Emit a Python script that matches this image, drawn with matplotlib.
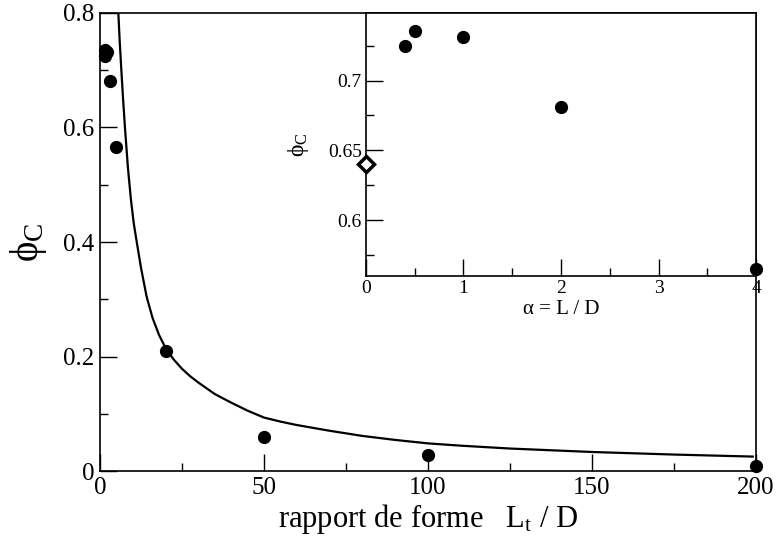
import matplotlib
matplotlib.use('Agg')
import matplotlib.pyplot as plt
from matplotlib.ticker import MultipleLocator, FuncFormatter

plt.rcParams['font.family'] = ['Liberation Serif', 'DejaVu Serif']
plt.rcParams['mathtext.fontset'] = 'custom'
plt.rcParams['mathtext.rm'] = 'Liberation Serif'
plt.rcParams['mathtext.it'] = 'Liberation Serif:italic'

# --- données ---
# rapport de forme Lt/D et fraction critique (points mesurés)
lt_over_d = [1.4, 1.5, 2.0, 3.0, 5.0, 20, 50, 100, 200]
phi_c_main = [0.725, 0.735, 0.731, 0.681, 0.565, 0.210, 0.060, 0.028, 0.010]

# courbe théorique (relevée point par point)
curve_x = [5.58, 6.0, 6.5, 7.0, 7.6, 8.5, 9.45, 10.3, 11.2, 12.5, 14.2, 16.0, 18.0,
           20.0, 22.5, 25.0, 27.5, 30.0, 35.0, 40.0, 45.0, 50.0, 55.0, 60.0, 70.0,
           80.0, 90.0, 100.0, 110.0, 125.0, 150.0, 175.0, 199.0]
curve_y = [0.800, 0.750, 0.700, 0.652, 0.600, 0.530, 0.4725, 0.432, 0.400, 0.355,
           0.305, 0.268, 0.238, 0.215, 0.195, 0.179, 0.166, 0.155, 0.135, 0.120,
           0.106, 0.094, 0.087, 0.081, 0.071, 0.062, 0.055, 0.049, 0.045, 0.040,
           0.034, 0.0295, 0.026]

# encart : alpha = L/D
alpha = [0.4, 0.5, 1.0, 2.0, 4.0]
phi_c_inset = [0.7248, 0.7355, 0.731, 0.6807, 0.565]
alpha_sphere = [0.0]
phi_c_sphere = [0.6405]

fig = plt.figure(figsize=(7.79, 5.49), dpi=100)
ax = fig.add_axes([0.1284, 0.1412, 0.9705 - 0.1284, 0.9769 - 0.1412])

ax.plot(curve_x, curve_y, color='black', lw=1.6, zorder=2)
ax.plot(lt_over_d, phi_c_main, 'o', color='black', ms=8.5, clip_on=False, zorder=3)

ax.set_xlim(0, 200)
ax.set_ylim(0, 0.8)
ax.xaxis.set_major_locator(MultipleLocator(50))
ax.xaxis.set_minor_locator(MultipleLocator(25))
ax.yaxis.set_major_locator(MultipleLocator(0.2))
ax.yaxis.set_minor_locator(MultipleLocator(0.1))
ax.yaxis.set_major_formatter(FuncFormatter(lambda v, p: '0' if abs(v) < 1e-9 else f'{v:.1f}'))
ax.tick_params(which='both', direction='in', top=False, right=False, labelsize=18, pad=4)
ax.tick_params(which='major', length=12, width=1)
ax.tick_params(which='minor', length=6, width=1)
for s in ax.spines.values():
    s.set_linewidth(1.2)
ax.set_xlabel('rapport de forme   L$_\\mathrm{t}$ / D', fontsize=22, labelpad=2)
ax.set_ylabel('\u03d5$_\\mathrm{C}$', fontsize=28, labelpad=10)

# --- encart ---
ins = fig.add_axes([0.4698, 0.4973, 0.9705 - 0.4698, 0.9769 - 0.4973])
ins.plot(alpha, phi_c_inset, 'o', color='black', ms=8.5, clip_on=False, zorder=3)
ins.plot(alpha_sphere, phi_c_sphere, 'D', mfc='white', mec='black', ms=8, mew=2.5,
         clip_on=False, zorder=3)
ins.set_xlim(0, 4)
ins.set_ylim(0.56, 0.7486)
ins.xaxis.set_major_locator(MultipleLocator(1))
ins.xaxis.set_minor_locator(MultipleLocator(0.5))
ins.yaxis.set_major_locator(MultipleLocator(0.05))
ins.yaxis.set_minor_locator(MultipleLocator(0.025))
ins.yaxis.set_major_formatter(FuncFormatter(lambda v, p: f'{v:g}' if v < 0.74 else ''))
ins.tick_params(which='both', direction='in', top=False, right=False, labelsize=14, pad=3)
ins.tick_params(which='major', length=12, width=1)
ins.tick_params(which='minor', length=6, width=1)
for s in ins.spines.values():
    s.set_linewidth(1.2)
ins.set_xlabel('α = L / D', fontsize=15, labelpad=2)
ins.set_ylabel('\u03d5$_\\mathrm{C}$', fontsize=17, labelpad=12)

fig.savefig('out.png', dpi=100)
